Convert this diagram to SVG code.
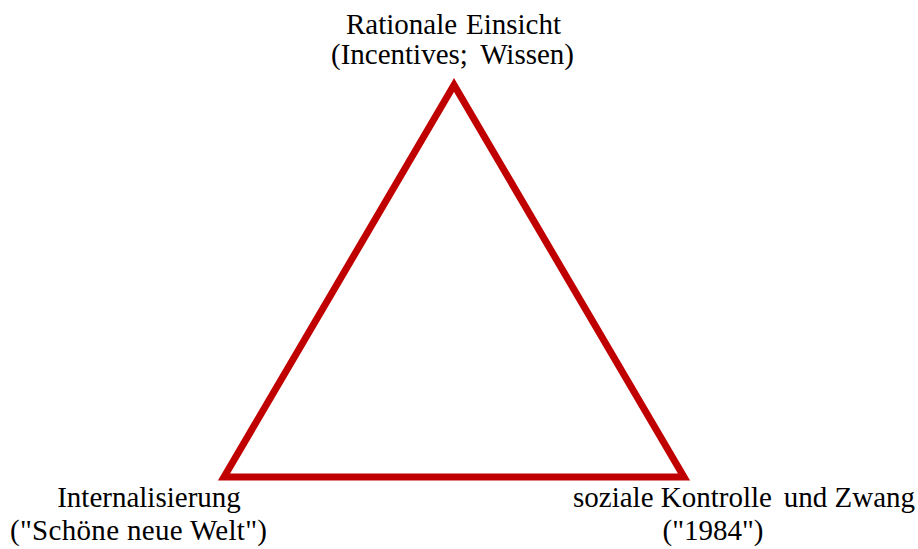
<svg xmlns="http://www.w3.org/2000/svg" width="918" height="549" viewBox="0 0 918 549">
<style>
.lbl{font-family:"Liberation Serif","Times New Roman",serif;font-size:29px;fill:#000}
.tri{fill:none;stroke:#C00000;stroke-width:7;stroke-linejoin:miter}
</style>
<rect width="918" height="549" fill="#fff"/>
<g id="connectors">
<polygon class="tri" points="454,85 224,477 684,477"/>
</g>
<g id="node-top">
<text class="lbl" y="34"><tspan x="346">Rationale</tspan> <tspan x="561" text-anchor="end">Einsicht</tspan></text>
<text class="lbl" y="64"><tspan x="331">(Incentives;</tspan> <tspan x="574" text-anchor="end">Wissen)</tspan></text>
</g>
<g id="node-left">
<text class="lbl" x="149" y="507" text-anchor="middle">Internalisierung</text>
<text class="lbl" x="138.5" y="540" text-anchor="middle" textLength="257" lengthAdjust="spacing">("Schöne neue Welt")</text>
</g>
<g id="node-right">
<text class="lbl" y="507"><tspan x="573">soziale Kontrolle</tspan> <tspan x="915" text-anchor="end">und Zwang</tspan></text>
<text class="lbl" x="713" y="540" text-anchor="middle">("1984")</text>
</g>
</svg>
